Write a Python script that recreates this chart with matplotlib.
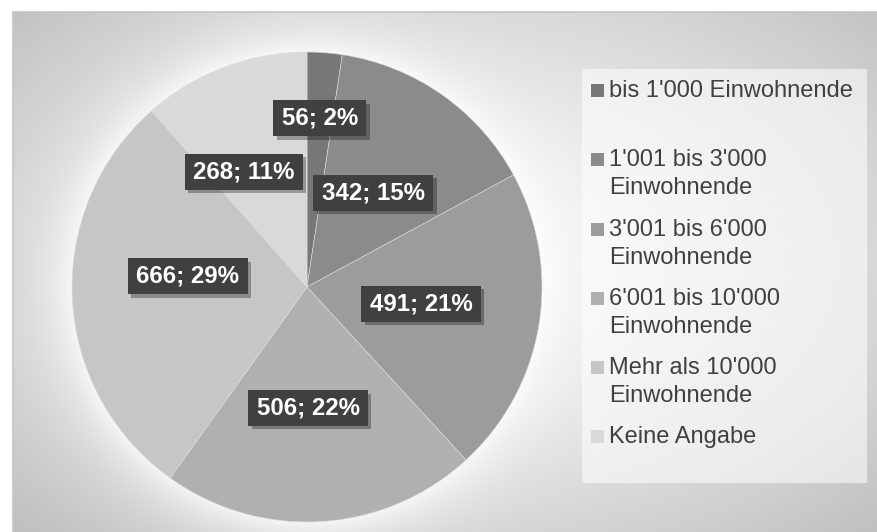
import numpy as np
import matplotlib
matplotlib.use("Agg")
import matplotlib.pyplot as plt
from matplotlib.patches import Rectangle
from matplotlib.path import Path
import matplotlib.patheffects as pe

# ---------------- data ----------------
categories = ["bis 1'000 Einwohnende",
              "1'001 bis 3'000\nEinwohnende",
              "3'001 bis 6'000\nEinwohnende",
              "6'001 bis 10'000\nEinwohnende",
              "Mehr als 10'000\nEinwohnende",
              "Keine Angabe"]
counts = [56, 342, 491, 506, 666, 268]
percents = [2, 15, 21, 22, 29, 11]
colors = ['#777777', '#8b8b8b', '#9c9c9c', '#b0b0b0', '#c6c6c6', '#d9d9d9']

# label layout (radius fraction, angular tweak in degrees clockwise)
label_r = [0.72, 0.49, 0.49, 0.515, 0.51, 0.56]
label_dtheta = [0, 0, -1, 3, 8, -8]

plt.rcParams['font.family'] = ['Liberation Sans', 'DejaVu Sans']

W, H = 878, 532
fig = plt.figure(figsize=(W / 100, H / 100), dpi=100)
fig.patch.set_facecolor('white')

# ---------------- background ----------------
bg = fig.add_axes([0, 0, 1, 1])
bg.set_xlim(0, W)
bg.set_ylim(H, 0)
bg.axis('off')

yy, xx = np.mgrid[0:H, 0:W] + 0.5
cx, cy = 450, 260
d = np.hypot((xx - cx) / (W / 2), (yy - cy) / (H / 2)) / np.sqrt(2)
val = 0.97 - 0.22 * d ** 1.5
pcx, pcy, R = 307, 287, 235
dp = np.hypot(xx - pcx, yy - pcy) - R
glow = np.exp(-np.clip(dp, 0, None) / 28.0) * (dp > -2)
val = val + (1 - val) * 0.75 * glow
val = np.where((xx < 13) | (yy < 12), 1.0, val)
img = np.dstack([val, val, val])
bg.imshow(img, extent=(0, W, H, 0), interpolation='bilinear', zorder=0)
bg.plot([13, 13], [12, H], color='#c4c4c4', lw=1.2, zorder=1)
bg.plot([13, W], [12, 12], color='#c4c4c4', lw=1.2, zorder=1)

# legend box
bg.add_patch(Rectangle((582, 69), 285, 414, facecolor='white', alpha=0.55,
                       edgecolor='none', zorder=2))

# ---------------- pie ----------------
ax = fig.add_axes([(pcx - R) / W, (H - pcy - R) / H, 2 * R / W, 2 * R / H])
ax.set_facecolor('none')
wedges, _ = ax.pie(counts, colors=colors, startangle=90, counterclock=False,
                   radius=1, wedgeprops=dict(edgecolor='#dedede', linewidth=0.4))
ax.set_xlim(-1, 1)
ax.set_ylim(-1, 1)
ax.set_aspect('equal')


def box_style(x0, y0, width, height, mutation_size):
    px = 0.35 * mutation_size
    py = 0.27 * mutation_size
    x0, y0 = x0 - px, y0 - py
    x1, y1 = x0 + width + 2 * px, y0 + height + 2 * py
    return Path([(x0, y0), (x1, y0), (x1, y1), (x0, y1), (x0, y0)], closed=True)


for w, c, p, r, dth in zip(wedges, counts, percents, label_r, label_dtheta):
    theta = np.deg2rad((w.theta1 + w.theta2) / 2 - dth)
    t = ax.text(r * np.cos(theta), r * np.sin(theta), f"{c}; {p}%",
                ha='center', va='center', color='white', fontsize=17.3,
                fontweight='bold',
                bbox=dict(boxstyle=box_style, facecolor='#404040', edgecolor='none'))
    t.get_bbox_patch().set_path_effects([
        pe.SimplePatchShadow(offset=(2.5, -2.5), shadow_rgbFace='black', alpha=0.3),
        pe.Normal()])

# ---------------- legend ----------------
for i, (lab, col) in enumerate(zip(categories, colors)):
    base = 97 + 69.3 * i
    bg.add_patch(Rectangle((591, base - 13), 13, 13, facecolor=col,
                           edgecolor='none', zorder=3))
    for j, line in enumerate(lab.split('\n')):
        bg.text(609, base + 28 * j, line, ha='left', va='baseline',
                fontsize=17, color='#404040', zorder=3)

fig.savefig('out.png', dpi=100)
